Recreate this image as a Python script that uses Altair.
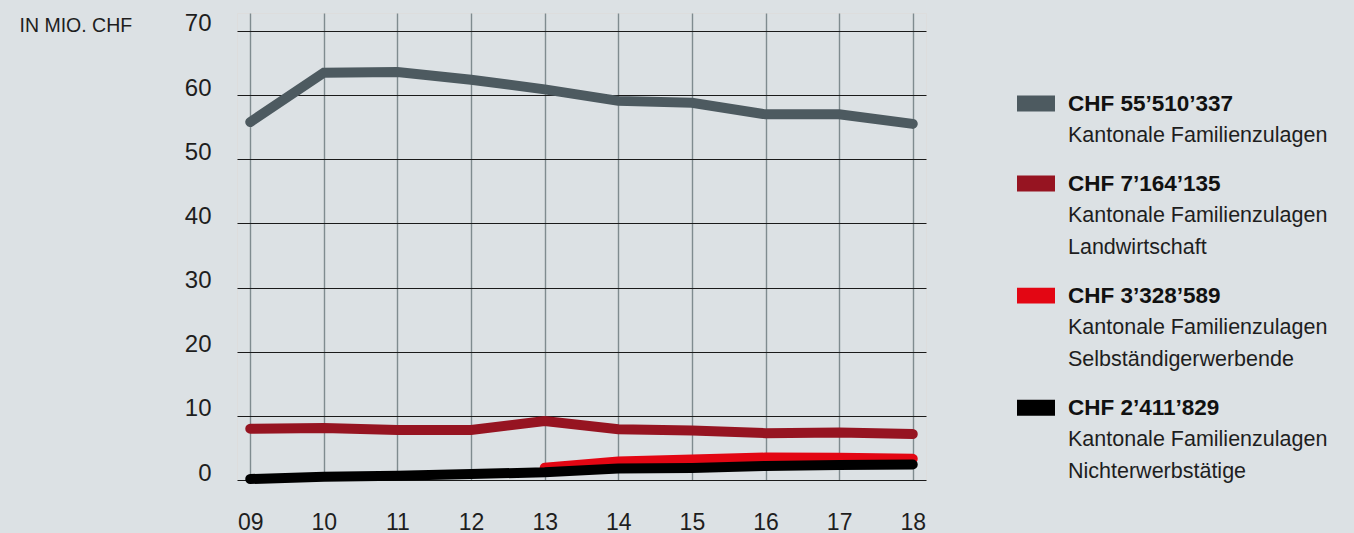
import altair as alt
import pandas as pd

# Family allowances per year, in million CHF
years = [9, 10, 11, 12, 13, 14, 15, 16, 17, 18]
kantonal = [55.8, 63.5, 63.6, 62.4, 60.9, 59.1, 58.8, 57.0, 57.0, 55.51]
landwirtschaft = [8.0, 8.1, 7.8, 7.8, 9.2, 7.9, 7.7, 7.3, 7.4, 7.16]
selbstaendig = [None, None, None, None, 1.9, 2.9, 3.2, 3.5, 3.45, 3.33]
nichterwerb = [0.15, 0.5, 0.67, 0.93, 1.2, 1.8, 1.87, 2.18, 2.33, 2.41]

series_names = ["Kantonal", "Landwirtschaft", "Selbständig", "Nichterwerbstätig"]
series_values = [kantonal, landwirtschaft, selbstaendig, nichterwerb]
series_colors = ["#4d5a60", "#961421", "#e30613", "#000000"]

legend_headers = ["CHF 55’510’337", "CHF 7’164’135", "CHF 3’328’589", "CHF 2’411’829"]
legend_bodies = [
    ["Kantonale Familienzulagen"],
    ["Kantonale Familienzulagen", "Landwirtschaft"],
    ["Kantonale Familienzulagen", "Selbständigerwerbende"],
    ["Kantonale Familienzulagen", "Nichterwerbstätige"],
]

y_ticks = [0, 10, 20, 30, 40, 50, 60, 70]

FONT = "Liberation Sans"
TEXT = "#1e1e1e"
BG = "#dce1e4"
W, H = 689, 467

rows = []
for name, vals in zip(series_names, series_values):
    for yr, v in zip(years, vals):
        if v is not None:
            rows.append({"series": name, "year": yr, "value": v})
df = pd.DataFrame(rows)

x_enc = alt.X(
    "year:Q",
    scale=alt.Scale(domain=[8.82, 18.18], nice=False, zero=False),
    axis=alt.Axis(
        values=years,
        labelExpr="datum.value < 10 ? '0' + datum.value : '' + datum.value",
        title=None,
        ticks=False,
        domain=False,
        grid=True,
        gridColor="#7f8b8f",
        gridWidth=1.4,
        labelFont=FONT,
        labelFontSize=23,
        labelColor=TEXT,
        labelPadding=31,
        labelBaseline="top",
    ),
)
y_enc = alt.Y(
    "value:Q",
    scale=alt.Scale(domain=[0, 72.8], nice=False),
    axis=alt.Axis(
        values=y_ticks,
        title="IN MIO. CHF",
        titleAngle=0,
        titleAlign="left",
        titleBaseline="alphabetic",
        titleX=-218,
        titleY=18,
        titleFont=FONT,
        titleFontSize=19.5,
        titleFontWeight="normal",
        titleColor=TEXT,
        ticks=False,
        domain=False,
        grid=True,
        gridColor="#1a1a1a",
        gridWidth=1.2,
        labelFont=FONT,
        labelFontSize=24,
        labelColor=TEXT,
        labelPadding=26,
        labelBaseline="alphabetic",
    ),
)

# One line per series, drawn in legend order (black on top)
series_lines = alt.layer(*[
    alt.Chart(df)
    .transform_filter(alt.datum.series == name)
    .mark_line(color=color, strokeWidth=10, strokeCap="round", strokeJoin="miter")
    .encode(x=x_enc, y=y_enc)
    for name, color in zip(series_names, series_colors)
])

# Legend to the right of the plot: swatch + bold amount + description lines
leg_rows = []
sw_rows = []
pos = 0.0
for name, head, body in zip(series_names, legend_headers, legend_bodies):
    sw_rows.append({"series": name, "line": pos})
    leg_rows.append({"line": pos, "text": head, "kind": "head"})
    for i, t in enumerate(body):
        leg_rows.append({"line": pos + 1 + i, "text": t, "kind": "body"})
    pos = pos + len(body) + 1.5
leg_df = pd.DataFrame(leg_rows)
sw_df = pd.DataFrame(sw_rows)

ly = alt.Y(
    "line:Q",
    scale=alt.Scale(domain=[-2.83, 11.76], reverse=True, nice=False, zero=False),
    axis=None,
)
LEG_X = W + 110  # swatch centre, right of the plot area

swatches = (
    alt.Chart(sw_df)
    .mark_point(
        shape="M-1,-0.42L1,-0.42L1,0.42L-1,0.42Z",
        size=1444,
        filled=True,
        opacity=1,
        strokeWidth=0,
    )
    .encode(
        x=alt.value(LEG_X),
        y=ly,
        color=alt.Color(
            "series:N",
            scale=alt.Scale(domain=series_names, range=series_colors),
            legend=None,
        ),
    )
)
heads = (
    alt.Chart(leg_df)
    .transform_filter(alt.datum.kind == "head")
    .mark_text(align="left", baseline="middle", font=FONT, fontSize=22.5, fontWeight="bold", color="#111111")
    .encode(x=alt.value(LEG_X + 32), y=ly, text="text:N")
)
bodies = (
    alt.Chart(leg_df)
    .transform_filter(alt.datum.kind == "body")
    .mark_text(align="left", baseline="middle", font=FONT, fontSize=21.5, color=TEXT)
    .encode(x=alt.value(LEG_X + 32), y=ly, text="text:N")
)

legend_layer = alt.layer(swatches, heads, bodies)

chart = (
    alt.layer(series_lines, legend_layer)
    .resolve_scale(y="independent", color="independent")
    .properties(
        width=W,
        height=H,
        autosize=alt.AutoSizeParams(type="none"),
        padding={"left": 237, "top": 13, "right": 1354 - 237 - W, "bottom": 533 - 13 - H},
    )
    .configure_view(stroke="transparent", strokeWidth=0)
    .configure(background=BG)
)

chart.save("out.html", embed_options={"renderer": "svg", "actions": False})
